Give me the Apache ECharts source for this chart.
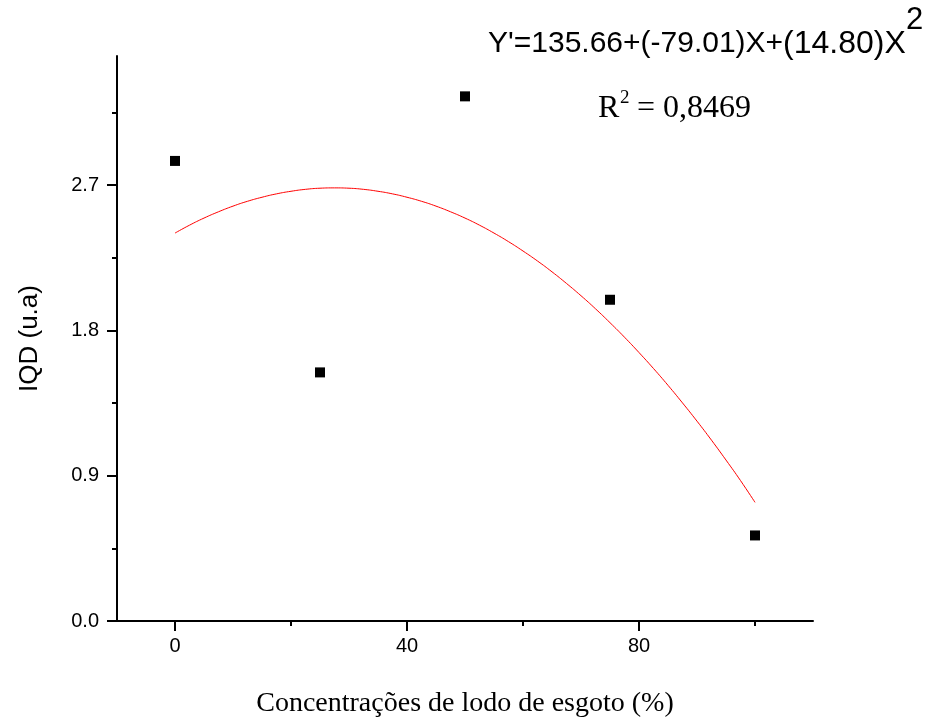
<!DOCTYPE html>
<html>
<head>
<meta charset="utf-8">
<script src="https://cdn.jsdelivr.net/npm/echarts@6/dist/echarts.min.js"></script>
<style>html,body{margin:0;padding:0;background:#fff;}#c{width:928px;height:718px;}</style>
</head>
<body>
<div id="c"></div>
<script>
// Observed data (IQD vs sewage sludge concentration)
const concentrations = [0, 25, 50, 75, 100];
const iqdValues = [2.85, 1.54, 3.25, 1.99, 0.53];
// Fitted curve
const fitX = [0, 2.5, 5, 7.5, 10, 12.5, 15, 17.5, 20, 22.5, 25, 27.5, 30, 32.5, 35, 37.5, 40, 42.5, 45, 47.5,
              50, 52.5, 55, 57.5, 60, 62.5, 65, 67.5, 70, 72.5, 75, 77.5, 80, 82.5, 85, 87.5, 90, 92.5, 95, 97.5, 100];
const fitY = [2.403, 2.452, 2.496, 2.535, 2.570, 2.600, 2.625, 2.646, 2.662, 2.674, 2.681, 2.683, 2.681, 2.674, 2.662, 2.646, 2.625, 2.600, 2.570, 2.535,
              2.496, 2.452, 2.403, 2.350, 2.292, 2.230, 2.163, 2.091, 2.015, 1.934, 1.848, 1.758, 1.663, 1.564, 1.460, 1.351, 1.238, 1.120, 0.997, 0.870, 0.735];
const equationPart1 = "Y'=135.66+(-79.01)X+";
const equationPart2 = "(14.80)X";
const equationExp = "2";
const r2Label = "R";
const r2Exp = "2";
const r2Value = " = 0,8469";
const xTitle = "Concentrações de lodo de esgoto (%)";
const yTitle = "IQD (u.a)";

const chart = echarts.init(document.getElementById('c'), null, {renderer: 'canvas'});

// layout (pixels)
const L = 117, B = 621, R = 813, T = 56;
const xMin = -10, xMax = 110, yMin = 0, yMax = 3.5;
const pxX = (R - L) / (xMax - xMin);
const pxY = (B - T) / (yMax - yMin);
const x0 = L + (0 - xMin) * pxX;

const fitData = fitX.map((x, i) => [x, fitY[i]]);
const ptData = concentrations.map((x, i) => [x, iqdValues[i]]);

const black = '#000';
const g = (left, top, width, height) => ({left, top, width, height, containLabel: false, outerBoundsMode: 'none'});
const hidden = (gi, min, max) => ({gridIndex: gi, type: 'value', min, max, show: false});
const tickStyle = {color: black, width: 2};

const option = {
  animation: false,
  backgroundColor: '#fff',
  grid: [
    g(L, T, R - L, B - T),
    g(L, B - 3.15 * pxY, 50, 3.15 * pxY),   // y minor ticks
    g(L, B - 2.7 * pxY, 50, 2.7 * pxY),     // y major ticks + labels
    g(x0, T, 100 * pxX, B - T),             // x minor ticks
    g(x0, T, 80 * pxX, B - T)               // x major ticks + labels
  ],
  xAxis: [
    {gridIndex: 0, type: 'value', min: xMin, max: xMax, axisLine: {onZero: false, lineStyle: {color: black, width: 2}},
     axisTick: {show: false}, axisLabel: {show: false}, splitLine: {show: false},
     name: xTitle, nameLocation: 'middle', nameGap: 69,
     nameTextStyle: {fontFamily: 'Liberation Serif', fontSize: 28, color: black}},
    hidden(1, 0, 1),
    hidden(2, 0, 1),
    {gridIndex: 3, type: 'value', min: 0, max: 100, interval: 20, axisLine: {show: false},
     axisTick: {show: true, length: 5, lineStyle: tickStyle}, axisLabel: {show: false}, splitLine: {show: false}},
    {gridIndex: 4, type: 'value', min: 0, max: 80, interval: 40, axisLine: {show: false},
     axisTick: {show: true, length: 10, lineStyle: tickStyle},
     axisLabel: {show: true, margin: 15, fontFamily: 'Liberation Sans', fontSize: 20, color: black},
     splitLine: {show: false}}
  ],
  yAxis: [
    {gridIndex: 0, type: 'value', min: yMin, max: yMax, axisLine: {show: true, onZero: false, lineStyle: {color: black, width: 2}},
     axisTick: {show: false}, axisLabel: {show: false}, splitLine: {show: false},
     name: yTitle, nameLocation: 'middle', nameGap: 74, nameRotate: 90,
     nameTextStyle: {fontFamily: 'Liberation Sans', fontSize: 26, color: black}},
    {gridIndex: 1, type: 'value', min: 0, max: 3.15, interval: 0.45, axisLine: {show: false},
     axisTick: {show: true, length: 5, lineStyle: tickStyle}, axisLabel: {show: false}, splitLine: {show: false}},
    {gridIndex: 2, type: 'value', min: 0, max: 2.7, interval: 0.9, axisLine: {show: false},
     axisTick: {show: true, length: 10, lineStyle: tickStyle},
     axisLabel: {show: true, margin: 18, fontFamily: 'Liberation Sans', fontSize: 20, color: black,
                 formatter: v => v.toFixed(1)},
     splitLine: {show: false}},
    hidden(3, 0, 1),
    hidden(4, 0, 1)
  ],
  series: [
    {type: 'line', xAxisIndex: 0, yAxisIndex: 0, data: fitData, smooth: true, showSymbol: false, symbol: 'none',
     lineStyle: {color: '#ff0000', width: 1}, z: 2},
    {type: 'scatter', xAxisIndex: 0, yAxisIndex: 0, data: ptData, symbol: 'rect', symbolSize: 10,
     itemStyle: {color: black, opacity: 1}, z: 3}
  ],
  graphic: [
    {type: 'text', left: 488, top: 28, style: {
      text: '{a|' + equationPart1 + '}{b|' + equationPart2 + '}',
      rich: {a: {font: '30px "Liberation Sans"', fill: black}, b: {font: '32px "Liberation Sans"', fill: black}}}},
    {type: 'text', left: 906, top: 5, style: {text: equationExp, font: '31px "Liberation Sans"', fill: black}},
    {type: 'text', left: 598, top: 93, style: {text: r2Label, font: '32px "Liberation Serif"', fill: black}},
    {type: 'text', left: 620, top: 89, style: {text: r2Exp, font: '19px "Liberation Serif"', fill: black}},
    {type: 'text', left: 629, top: 93, style: {text: r2Value, font: '32px "Liberation Serif"', fill: black}}
  ]
};
chart.setOption(option);
</script>
</body>
</html>
